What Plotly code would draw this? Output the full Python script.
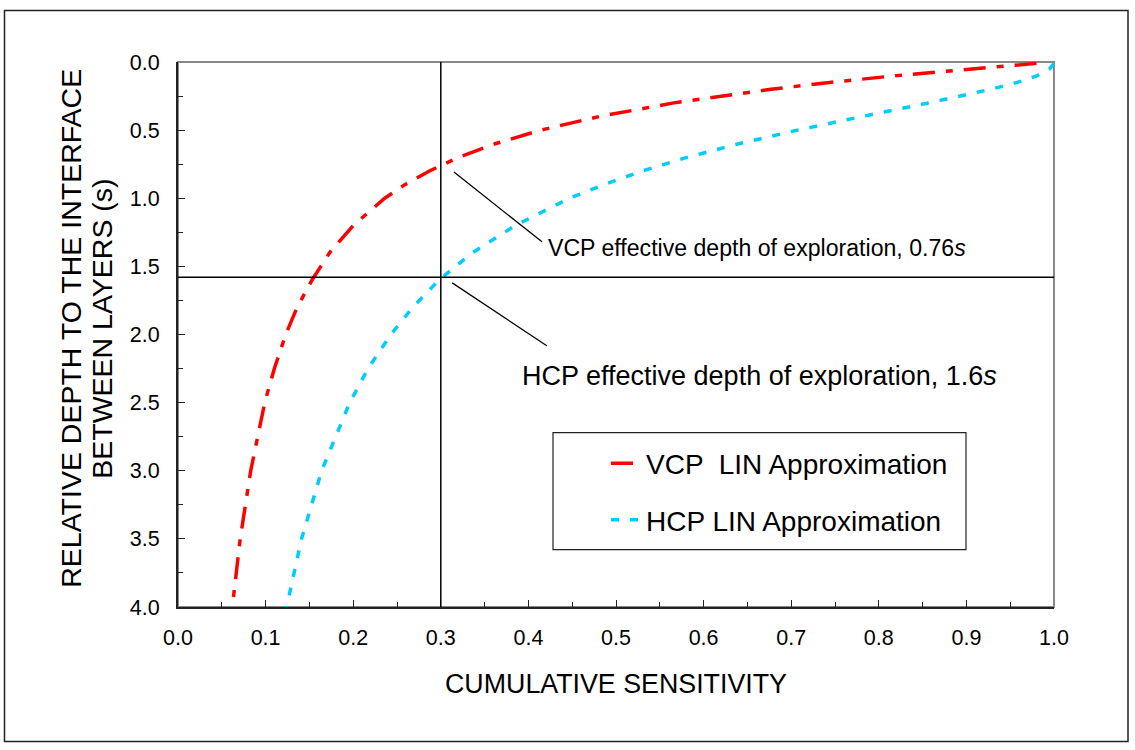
import plotly.graph_objects as go

# ---- data ----
depth = [0.01, 0.05, 0.1, 0.15, 0.2, 0.3, 0.4, 0.5, 0.6, 0.7, 0.8, 0.9, 1.0,
         1.2, 1.4, 1.6, 1.8, 2.0, 2.25, 2.5, 3.0, 3.5, 4.0]
vcp_sens = [0.980, 0.905, 0.820, 0.744, 0.677, 0.566, 0.481, 0.414, 0.362, 0.320,
            0.287, 0.259, 0.236, 0.200, 0.173, 0.153, 0.136, 0.123, 0.110, 0.099,
            0.083, 0.071, 0.062]
hcp_sens = [1.000, 0.995, 0.981, 0.958, 0.928, 0.857, 0.781, 0.707, 0.640, 0.581,
            0.530, 0.486, 0.447, 0.385, 0.336, 0.298, 0.268, 0.243, 0.217, 0.196,
            0.164, 0.141, 0.124]
series_names = ["VCP  LIN Approximation", "HCP LIN Approximation"]
x_ticks = [0.0, 0.1, 0.2, 0.3, 0.4, 0.5, 0.6, 0.7, 0.8, 0.9, 1.0]
y_ticks = [0.0, 0.5, 1.0, 1.5, 2.0, 2.5, 3.0, 3.5, 4.0]
ref_sensitivity = 0.3          # vertical reference line
ref_depth = 1.58               # horizontal reference line
vcp_label = "VCP effective depth of exploration, 0.76<i>s</i>"
hcp_label = "HCP effective depth of exploration, 1.6<i>s</i>"
x_title = "CUMULATIVE SENSITIVITY"
y_title_lines = ["RELATIVE DEPTH TO THE INTERFACE", "BETWEEN LAYERS (s)"]
# leader lines (sensitivity, depth) start -> end
vcp_leader = [(0.315, 0.807), (0.4155, 1.320)]
hcp_leader = [(0.313, 1.621), (0.421, 2.083)]

FONT = "Liberation Sans, Arial, sans-serif"

# plot-area pixel geometry
W, H = 1135, 750
L, R, T, B = 178, 1054, 62, 607.5
pw, ph = R - L, B - T


def px(xp):
    return (xp - L) / pw


def py(yp):
    return 1 - (yp - T) / ph


fig = go.Figure()
fig.add_trace(go.Scatter(
    x=vcp_sens, y=depth, mode="lines", name=series_names[0], legendgroup="a",
    line=dict(color="#FF0000", width=3.5, dash="22px,11px,7px,11px")))
fig.add_trace(go.Scatter(
    x=hcp_sens, y=depth, mode="lines", name=series_names[1], legendgroup="b",
    line=dict(color="#00CCFF", width=3.5, dash="8px,11px")))

shapes = []
# outer frame
shapes.append(dict(type="rect", xref="paper", yref="paper",
                   x0=px(4.5), x1=px(1128), y0=py(742), y1=py(10.5),
                   line=dict(color="#222", width=1.5), layer="below"))
# gray top/right frame of plot area
shapes.append(dict(type="rect", xref="paper", yref="paper", x0=0, x1=1, y0=0, y1=1,
                   line=dict(color="#888", width=2), layer="below"))
# reference lines
shapes.append(dict(type="line", xref="x", yref="paper", x0=ref_sensitivity,
                   x1=ref_sensitivity, y0=0, y1=1, line=dict(color="black", width=1.5)))
shapes.append(dict(type="line", xref="paper", yref="y", x0=0, x1=1,
                   y0=ref_depth, y1=ref_depth, line=dict(color="black", width=1.5)))
# leader lines
for (a, b) in (vcp_leader, hcp_leader):
    shapes.append(dict(type="line", xref="x", yref="y", x0=a[0], y0=a[1], x1=b[0], y1=b[1],
                       line=dict(color="black", width=1.3)))
# legend frame
shapes.append(dict(type="rect", xref="paper", yref="paper",
                   x0=px(553), x1=px(966), y0=py(550), y1=py(433),
                   line=dict(color="#222", width=1.2), fillcolor="white", layer="below"))

annotations = [
    dict(text=vcp_label, xref="paper", yref="paper", x=px(546), y=py(248),
         xanchor="left", yanchor="middle", showarrow=False,
         font=dict(family=FONT, size=23.1, color="black")),
    dict(text=hcp_label, xref="paper", yref="paper", x=px(520), y=py(376),
         xanchor="left", yanchor="middle", showarrow=False,
         font=dict(family=FONT, size=27, color="black")),
    dict(text=x_title, xref="paper", yref="paper", x=px(616), y=py(685),
         xanchor="center", yanchor="middle", showarrow=False,
         font=dict(family=FONT, size=26.8, color="black")),
    dict(text=y_title_lines[0], xref="paper", yref="paper", x=px(71), y=py(329),
         textangle=-90, showarrow=False, xanchor="center", yanchor="middle",
         font=dict(family=FONT, size=28.5, color="black")),
    dict(text=y_title_lines[1], xref="paper", yref="paper", x=px(102), y=py(329),
         textangle=-90, showarrow=False, xanchor="center", yanchor="middle",
         font=dict(family=FONT, size=28.5, color="black")),
]

axis_common = dict(showline=True, linecolor="#222", linewidth=2, ticks="inside",
                   ticklen=7, tickwidth=1.3, tickcolor="#222", showgrid=False,
                   zeroline=False, tickformat=".1f",
                   tickfont=dict(family=FONT, size=21.5, color="black"))

fig.update_layout(
    width=W, height=H,
    margin=dict(l=L, r=W - R, t=T, b=H - B),
    paper_bgcolor="white", plot_bgcolor="rgba(0,0,0,0)",
    font=dict(family=FONT, color="black"),
    showlegend=True,
    legend=dict(x=px(606), y=py(439), xanchor="left", yanchor="top",
                bgcolor="rgba(0,0,0,0)", borderwidth=0, tracegroupgap=17,
                font=dict(family=FONT, size=28, color="black")),
    xaxis=dict(range=[0, 1], tickvals=x_ticks, ticklabelstandoff=10,
               minor=dict(dtick=0.05, ticks="inside", ticklen=5, tickcolor="#222"),
               **axis_common),
    yaxis=dict(range=[4, 0], tickvals=y_ticks, ticklabelstandoff=12,
               minor=dict(dtick=0.25, ticks="inside", ticklen=5, tickcolor="#222"),
               **axis_common),
    shapes=shapes, annotations=annotations,
)

fig.write_html("out.html")
